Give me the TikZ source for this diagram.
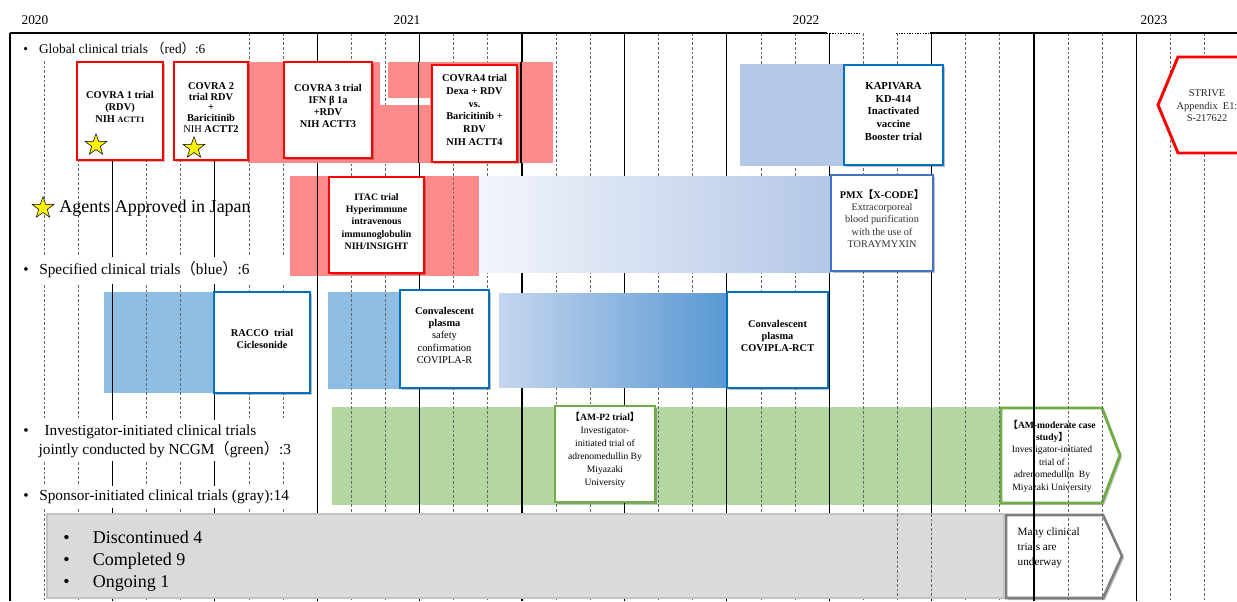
\documentclass[tikz,border=0pt]{standalone}
\usepackage{fontspec}
\setmainfont{Liberation Serif}
\newfontfamily\cjk{Noto Sans CJK JP}
\usetikzlibrary{fit,shapes.geometric,shadows}

\definecolor{trialred}{RGB}{255,0,0}
\definecolor{pinkband}{RGB}{255,138,138}
\definecolor{paleblue}{RGB}{180,199,231}
\definecolor{whiteblue}{RGB}{242,245,251}
\definecolor{vaxblue}{RGB}{0,112,192}
\definecolor{pmxblue}{RGB}{68,114,196}
\definecolor{skyblue}{RGB}{141,189,227}
\definecolor{fadeblue}{RGB}{198,214,238}
\definecolor{deepblue}{RGB}{88,152,211}
\definecolor{greenband}{RGB}{180,214,160}
\definecolor{ncgmgreen}{RGB}{112,173,71}
\definecolor{grayband}{RGB}{218,218,218}
\definecolor{grayrim}{RGB}{195,195,195}
\definecolor{grayedge}{RGB}{127,127,127}

% full-width brackets
\newcommand{\jlp}{{\cjk （}}
\newcommand{\jrp}{{\cjk ）}}
\newcommand{\jlb}{{\cjk 【}}
\newcommand{\jrb}{{\cjk 】}}

\begin{document}
\begin{tikzpicture}[x=0.75pt,y=-0.75pt,
	trial/.style={draw=#1, line width=2.2pt, fill=white, inner sep=0pt, align=center,
		font=\fontsize{7.8}{9}\selectfont\bfseries,
		drop shadow={shadow xshift=1.2pt,shadow yshift=-1.2pt,fill=black,opacity=.25}},
	lbl/.style={anchor=west, inner sep=0pt, align=left, font=\fontsize{11.5}{14}\selectfont},
	monthline/.style={black!60, line width=0.5pt, dash pattern=on 2pt off 1.5pt},
	quarterline/.style={black, line width=0.9pt},
	approved/.style={star, star points=5, star point ratio=2.5, minimum size=17pt,
		inner sep=0pt, fill=yellow, draw=black, line width=0.4pt}]
	\useasboundingbox (0,0) rectangle (1237,601);
	\clip (0,0) rectangle (1237,601);
	\fill[white] (0,0) rectangle (1237,601);

	% years
	\node[font=\fontsize{10}{12}\selectfont] (y2020) at (35,20) {2020};
	\node[font=\fontsize{10}{12}\selectfont] (y2021) at (407,20) {2021};
	\node[font=\fontsize{10}{12}\selectfont] (y2022) at (806,20) {2022};
	\node[font=\fontsize{10}{12}\selectfont] (y2023) at (1154,20) {2023};

	% things the grid runs over
	\fill[pinkband] (290,176) rectangle (479,276);
	\fill[skyblue] (104,292) rectangle (215,393);
	\fill[skyblue] (328,292) rectangle (400,389);
	\fill[greenband] (332,407) rectangle (1003,505);
	\fill[black, opacity=.25] (1003,410) -- (1104,410) -- (1122,457) -- (1104,505) -- (1003,505) -- cycle;
	\draw[ncgmgreen, line width=2.2pt, fill=white]
		(1001,408) -- (1102,408) -- (1120,455) -- (1102,503) -- (1001,503) -- cycle;
	\node[align=center, font=\fontsize{7.2}{9.3}\selectfont] (ammod) at (1052,456)
		{\textbf{\jlb AM-moderate case}\\\textbf{study\jrb}\\Investigator-initiated\\trial of\\adrenomedullin~~By\\Miyazaki University};
	\fill[black, opacity=.25] (1008,517) -- (1105,517) -- (1124,558) -- (1105,600) -- (1008,600) -- cycle;
	\draw[grayedge, line width=2pt, fill=white]
		(1006,515) -- (1103,515) -- (1122,556) -- (1103,598) -- (1006,598) -- cycle;
	\node[align=left, anchor=west, font=\fontsize{8.4}{11.3}\selectfont] (many) at (1013,548)
		{Many clinical\\trials are\\underway};

	% month grid
	\foreach \n in {0,...,36}{
		\pgfmathtruncatemacro{\q}{mod(\n,3)}
		\ifnum\q=0
			\draw[quarterline] ({10+34.13*\n},33) -- ({10+34.13*\n},601);
		\else
			\draw[monthline] ({10+34.13*\n},33) -- ({10+34.13*\n},601);
		\fi
	}
	\draw[black, line width=0.8pt] (10,33) -- (827,33) (930,33) -- (1237,33);
	\draw[black, line width=0.6pt, dash pattern=on 1pt off 1pt] (827,33) -- (861,33) (896,33) -- (930,33);

	% category labels
	\fill[white] (11,34) rectangle (244,61);
	\node[lbl, font=\fontsize{10}{12}\selectfont] (global) at (23,48) {\textbullet\hspace{8.4pt}Global clinical trials \jlp red\jrp:6};
	\node[approved] (starkey) at (43,208) {};
	\node[lbl, font=\fontsize{13.5}{16}\selectfont] (approvedtxt) at (59,208) {Agents Approved in Japan};
	\fill[white] (11,257) rectangle (289,284);
	\node[lbl] (specified) at (23,270) {\textbullet\hspace{8pt}Specified clinical trials\jlp blue\jrp:6};
	\fill[white] (11,420) rectangle (300,461);
	\node[lbl] (investigator) at (23,441)
		{\textbullet\hspace{12pt}Investigator-initiated clinical trials\\\hspace*{11.5pt}jointly conducted by NCGM\jlp green\jrp:3};
	\fill[white] (11,486) rectangle (305,508);
	\node[lbl] (sponsor) at (23,497) {\textbullet\hspace{8pt}Sponsor-initiated clinical trials (gray):14};

	% global trials (red)
	\fill[pinkband] (248,62) rectangle (380,163);
	\fill[pinkband] (388,62) rectangle (553,163);
	\fill[pinkband] (380,105) rectangle (388,163);
	\fill[white] (388,98) rectangle (430,105);
	\draw[quarterline] (418.6,62) -- (418.6,163) (521,62) -- (521,163);
	\node[trial=trialred, fit={(77,62)(163,160)}] (covra1)
		{COVRA 1 trial\\(RDV)\\NIH {\fontsize{6.2}{9}\selectfont ACTT1}};
	\node[trial=trialred, fit={(174,62)(248,160)}, font=\fontsize{7.8}{8.1}\selectfont\bfseries] (covra2)
		{COVRA 2\\trial RDV\\+\\Baricitinib\\{\mdseries NIH} ACTT2};
	\node[approved] (star1) at (96,145) {};
	\node[approved] (star2) at (194,148) {};
	\node[trial=trialred, fit={(284,62)(372,158)}] (covra3)
		{COVRA 3 trial\\IFN β 1a\\+RDV\\NIH ACTT3};
	\node[trial=trialred, fit={(432,65)(517,162)}, font=\fontsize{7.8}{9.5}\selectfont\bfseries] (covra4)
		{COVRA4 trial\\Dexa + RDV\\vs.\\Baricitinib +\\RDV\\NIH ACTT4};
	\fill[paleblue] (740,64) rectangle (844,166);
	\node[trial=vaxblue, fit={(844,65)(943,165)}, font=\fontsize{8}{9.4}\selectfont\bfseries] (kapivara)
		{KAPIVARA\\KD-414\\Inactivated\\vaccine\\Booster trial};
	\draw[trialred, line width=2.2pt, fill=white] (1158,105) -- (1178,57) -- (1245,57) -- (1245,153) -- (1178,153) -- cycle;
	\node[align=center, font=\fontsize{7.8}{9.3}\selectfont, text=black!85] (strive) at (1207,106)
		{STRIVE\\Appendix~~E1:\\S-217622};

	% second red row and PMX
	\node[trial=trialred, fit={(329,177)(424,273)}, font=\fontsize{7.4}{9.3}\selectfont\bfseries] (itac)
		{ITAC trial\\Hyperimmune\\intravenous\\immunoglobulin\\NIH/INSIGHT};
	\shade[left color=whiteblue, right color=paleblue] (479,176) rectangle (831,272);
	\node[trial=pmxblue, fit={(831,175)(933,271)}, font=\fontsize{7.7}{9.3}\selectfont, text=black!80] (pmx)
		{\textbf{\color{black}PMX\jlb X-CODE\jrb}\\Extracorporeal\\blood purification\\with the use of\\TORAYMYXIN};

	% specified trials (blue)
	\node[trial=vaxblue, fit={(214,292)(310,393)}] (racco) {RACCO~~trial\\Ciclesonide\\[6pt]};
	\node[trial=vaxblue, fit={(400,290)(489,388)}, font=\fontsize{7.8}{9.3}\selectfont] (covipla)
		{\textbf{Convalescent}\\\textbf{plasma}\\safety\\confirmation\\COVIPLA-R};
	\shade[left color=fadeblue, right color=deepblue] (499,293) rectangle (727,387);
	\node[trial=vaxblue, fit={(727,292)(828,388)}] (rct)
		{Convalescent\\plasma\\COVIPLA-RCT\\[10pt]};

	% NCGM trials (green)
	\node[trial=ncgmgreen, fit={(555,406)(655,502)}, font=\fontsize{7.2}{9.8}\selectfont] (amp2)
		{\textbf{\jlb AM-P2 trial\jrb}\\Investigator-\\initiated trial of\\adrenomedullin By\\Miyazaki\\University};

	% sponsor trials (gray)
	\draw[fill=grayband, draw=grayrim, line width=1.5pt] (47,514) rectangle (1004,598);
	\draw[monthline] (897.4,514) -- (897.4,598) (931.5,514) -- (931.5,598);
	\node[lbl, font=\fontsize{13.5}{16.5}\selectfont] (sponsorlist) at (63,561)
		{\textbullet\hspace{17.5pt}Discontinued 4\\\textbullet\hspace{17.5pt}Completed 9\\\textbullet\hspace{17.5pt}Ongoing 1};
\end{tikzpicture}
\end{document}
